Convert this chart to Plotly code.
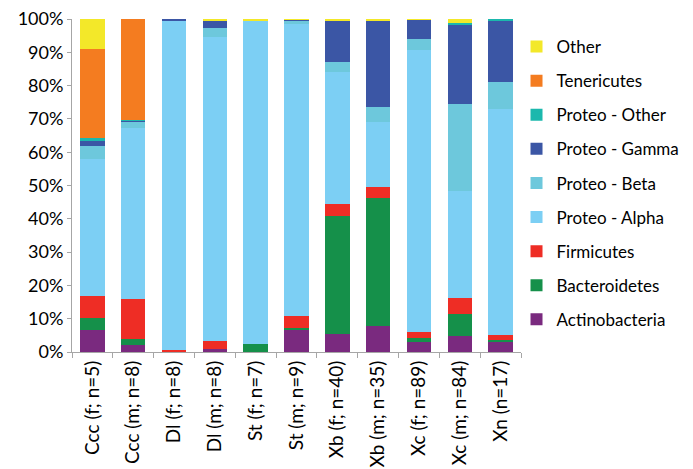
import plotly.graph_objects as go

groups = ['Ccc (f; n=5)', 'Ccc (m; n=8)', 'Dl (f; n=8)', 'Dl (m; n=8)', 'St (f; n=7)',
          'St (m; n=9)', 'Xb (f; n=40)', 'Xb (m; n=35)', 'Xc (f; n=89)', 'Xc (m; n=84)', 'Xn (n=17)']

# percent of reads per phylum, bottom to top of each stack
actinobacteria = [6.6, 2.2, 0.2, 1.0, 0.0, 6.8, 5.3, 7.9, 3.0, 4.8, 3.2]
bacteroidetes  = [3.5, 1.7, 0.0, 0.0, 2.4, 0.5, 35.5, 38.3, 1.3, 6.5, 0.4]
firmicutes     = [6.7, 12.1, 0.5, 2.2, 0.0, 3.6, 3.6, 3.5, 1.8, 4.9, 1.5]
proteo_alpha   = [41.3, 51.3, 98.6, 91.4, 97.2, 87.7, 39.6, 19.5, 84.5, 32.1, 67.8]
proteo_beta    = [3.7, 1.9, 0.0, 2.7, 0.0, 1.0, 3.2, 4.5, 3.5, 26.2, 8.2]
proteo_gamma   = [1.7, 0.2, 0.7, 2.3, 0.0, 0.2, 12.1, 25.6, 5.7, 23.8, 18.5]
proteo_other   = [0.8, 0.2, 0.0, 0.0, 0.0, 0.0, 0.0, 0.0, 0.0, 0.5, 0.4]
tenericutes    = [26.6, 30.4, 0.0, 0.0, 0.0, 0.0, 0.0, 0.0, 0.0, 0.0, 0.0]
other          = [9.1, 0.0, 0.0, 0.4, 0.4, 0.2, 0.7, 0.7, 0.2, 1.2, 0.0]

series = [
    ('Actinobacteria', actinobacteria, '#7a2a7f'),
    ('Bacteroidetes', bacteroidetes, '#15904a'),
    ('Firmicutes', firmicutes, '#ee2d25'),
    ('Proteo - Alpha', proteo_alpha, '#7ccff4'),
    ('Proteo - Beta', proteo_beta, '#6dc8dc'),
    ('Proteo - Gamma', proteo_gamma, '#3b56a5'),
    ('Proteo - Other', proteo_other, '#1bb8ad'),
    ('Tenericutes', tenericutes, '#f47c20'),
    ('Other', other, '#f3e829'),
]

fig = go.Figure()
n = len(series)
for i, (name, vals, col) in enumerate(series):
    # legend lists the top of the stack first
    fig.add_trace(go.Bar(x=groups, y=vals, name=name, legendgroup=name,
                         legendrank=n - i,
                         marker=dict(color=col, line=dict(width=0))))

font = 'Lato, "Open Sans", sans-serif'
fig.update_layout(
    barmode='stack', bargap=0.4,
    width=693, height=469,
    margin=dict(l=64, r=180, t=11, b=125),
    plot_bgcolor='white', paper_bgcolor='white',
    font=dict(family=font, size=18, color='black'),
    legend=dict(traceorder='grouped', tracegroupgap=9, x=0.99, y=0.97,
                xanchor='left', yanchor='top', font=dict(size=17),
                maxheight=460),
    showlegend=True,
)
fig.update_yaxes(range=[0, 100], dtick=10, ticksuffix='%', showgrid=False,
                 showline=True, linecolor='#a6a6a6', linewidth=1,
                 ticks='outside', ticklen=4, tickcolor='#a6a6a6',
                 tickfont=dict(size=18), ticklabeloverflow='allow', automargin=False)
fig.update_xaxes(tickangle=-90, showline=True, linecolor='#a6a6a6', linewidth=1,
                 ticks='outside', ticklen=5, tickcolor='#a6a6a6', tickson='boundaries',
                 tickfont=dict(size=19), automargin=False)

fig.write_html("out.html")
